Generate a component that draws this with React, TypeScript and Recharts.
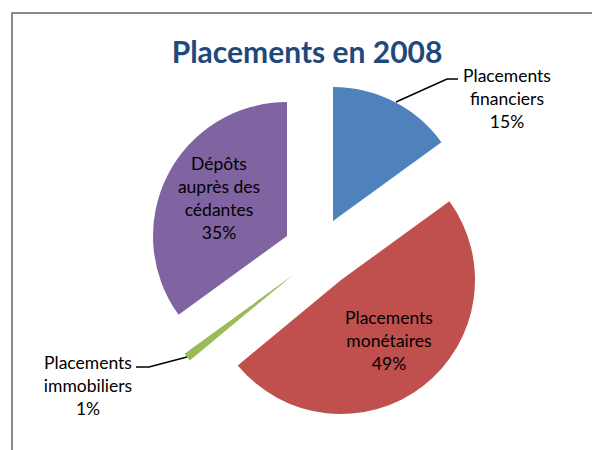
import React from 'react'
import { PieChart, Pie, Cell } from 'recharts'

const CATEGORIES = ['Placements\nfinanciers', 'Placements\nmonétaires', 'Placements\nimmobiliers', 'Dépôts\nauprès des\ncédantes']
const VALUES = [15, 49, 1, 35]
const COLORS = ['#4F81BD', '#C0504D', '#9BBB59', '#8064A2']

// exploded slices: each slice gets its own centre
const SLICE_POS = [
  { cx: 333, cy: 221 },
  { cx: 341, cy: 280 },
  { cx: 293, cy: 275 },
  { cx: 287, cy: 236 },
]
// label position relative to the slice centre (first line)
const LABEL_OFFSET = [
  { dx: 174, dy: -146 },
  { dx: 48, dy: 37 },
  { dx: -205, dy: 87 },
  { dx: -68, dy: -73 },
]
const LEADERS: (number[][] | null)[] = [
  [[63, -119], [114, -142], [125, -142]],
  null,
  [[-106, 82], [-144, 92], [-157, 92]],
  null,
]

const data = CATEGORIES.map((name, i) => ({ name, value: VALUES[i] }))

const FONT = 'Lato, sans-serif'
const LINE_H = 23

function makeLabel(owner: number) {
  return (props: any) => {
    const { index, cx, cy, percent, name } = props
    if (index !== owner) return <g />
    const off = LABEL_OFFSET[index]
    const lines = [...String(name).split('\n'), `${Math.round(percent * 100)}%`]
    const leader = LEADERS[index]
    return (
      <g>
        {leader && (
          <polyline
            points={leader.map(([x, y]) => `${cx + x},${cy + y}`).join(' ')}
            fill="none"
            stroke="#000"
            strokeWidth={1.5}
          />
        )}
        {lines.map((l, i) => (
          <text
            key={i}
            x={cx + off.dx}
            y={cy + off.dy + i * LINE_H}
            textAnchor="middle"
            dominantBaseline="central"
            fontFamily={FONT}
            fontSize={17.5}
            fill="#000"
          >
            {l}
          </text>
        ))}
      </g>
    )
  }
}

export default function App() {
  return (
    <div style={{ position: 'fixed', left: 0, top: 0, width: 592, height: 450, overflow: 'hidden', background: '#fff' }}>
      <div
        style={{
          position: 'absolute',
          left: 11,
          top: 12,
          width: 700,
          height: 600,
          border: '2px solid #8a8a8a',
        }}
      />
      <svg width={592} height={450} style={{ position: 'absolute', left: 0, top: 0 }}>
        <text x={307} y={63} textAnchor="middle" fontFamily={FONT} fontWeight="bold" fontSize={30} fill="#1F497D">
          Placements en 2008
        </text>
      </svg>
      <div style={{ position: 'absolute', left: 0, top: 0 }}>
        <PieChart width={592} height={450} margin={{ top: 0, right: 0, bottom: 0, left: 0 }}>
          {SLICE_POS.map((p, k) => (
            <Pie
              key={k}
              data={data}
              dataKey="value"
              nameKey="name"
              cx={p.cx}
              cy={p.cy}
              outerRadius={134}
              startAngle={90}
              endAngle={-270}
              stroke="none"
              labelLine={false}
              label={makeLabel(k)}
              isAnimationActive={false}
            >
              {data.map((d, i) => (
                <Cell key={i} fill={i === k ? COLORS[i] : 'transparent'} stroke="none" />
              ))}
            </Pie>
          ))}
        </PieChart>
      </div>
    </div>
  )
}
